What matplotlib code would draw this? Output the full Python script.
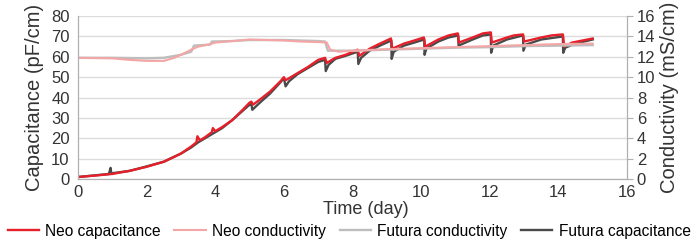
import matplotlib.pyplot as plt

plt.rcParams['font.family'] = ['Liberation Sans', 'DejaVu Sans']

# Neo capacitance (pF/cm)
neo_cap_t = [0, 0.5, 1.0, 1.5, 2.0, 2.5, 3.0, 3.3, 3.45, 3.48, 3.55, 3.7, 3.9, 3.93, 4.0, 4.2,
             4.5, 4.8, 5.0, 5.05, 5.1, 5.3, 5.6, 5.9, 6.0, 6.05, 6.4, 6.7, 7.0, 7.2, 7.25, 7.5,
             7.8, 8.15, 8.2, 8.5, 8.8, 9.12, 9.16, 9.5, 9.8, 10.08, 10.12, 10.5, 10.8, 11.07,
             11.1, 11.5, 11.8, 12.03, 12.06, 12.5, 12.7, 12.97, 13.0, 13.5, 13.8, 14.13, 14.17,
             14.4, 14.7, 15.0]
neo_cap = [1, 1.7, 2.5, 4, 6, 8.5, 12.5, 16, 18, 21, 19, 20.5, 23, 25, 23.5, 25.5,
           29, 34, 37.5, 38, 36.5, 39, 43, 48, 50, 48.5, 52, 55, 58.5, 59.5, 57, 59.5,
           61, 63.5, 60.5, 64, 66.5, 69, 64, 66.5, 68, 69.5, 65, 68.5, 70.5, 71.5,
           67, 69.5, 71.5, 72, 67, 69.5, 70.5, 71, 67.5, 69.5, 70.5, 71, 65,
           67, 68, 69]

# Futura capacitance (pF/cm)
fut_cap_t = [0, 0.9, 0.95, 0.97, 1.5, 2, 2.5, 3, 3.3, 3.5, 3.9, 4.2, 4.5, 4.8, 5.0, 5.05,
             5.08, 5.3, 5.6, 5.9, 6.0, 6.05, 6.15, 6.4, 6.7, 7.0, 7.2, 7.22, 7.3, 7.5, 7.8,
             8.15, 8.17, 8.25, 8.5, 8.8, 9.13, 9.14, 9.2, 9.5, 9.8, 10.09, 10.1, 10.15, 10.5,
             10.8, 11.08, 11.09, 11.5, 11.8, 12.03, 12.04, 12.1, 12.5, 12.97, 12.98, 13.05,
             13.5, 14.13, 14.14, 14.2, 14.5, 15.0]
fut_cap = [1, 2.5, 5.5, 2.8, 4, 6.2, 8.5, 12.5, 15.5, 18, 22, 25, 29, 33.5, 36.5, 37,
           34, 37.5, 42, 47.5, 49.5, 45.5, 48, 51.5, 54.5, 57.5, 58.5, 53, 56, 59, 60.5,
           62.5, 56.5, 59.5, 63, 65.5, 68, 59, 62.5, 65.5, 67, 68.5, 61, 64, 67.5,
           69.5, 70.5, 65.5, 68.5, 70.5, 71, 62, 65.5, 68.5, 70.5, 63, 66,
           68.5, 70, 62, 64.5, 66.5, 68.5]

# Neo conductivity (mS/cm)
neo_cond_t = [0, 1, 1.5, 2, 2.5, 2.8, 3.0, 3.3, 3.5, 3.8, 4, 4.5, 5, 5.5, 6, 6.5, 7, 7.25,
              7.35, 7.6, 8, 9, 10, 11, 12, 13, 14, 15]
neo_cond = [11.9, 11.85, 11.7, 11.6, 11.6, 11.9, 12.2, 12.7, 13.0, 13.2, 13.4, 13.55, 13.7,
            13.65, 13.6, 13.5, 13.45, 13.4, 12.7, 12.5, 12.6, 12.75, 12.85, 12.95, 13.05,
            13.15, 13.25, 13.3]

# Futura conductivity (mS/cm)
fut_cond_t = [0, 1, 2, 2.5, 3, 3.3, 3.38, 3.85, 3.9, 4.5, 5, 6, 7, 7.2, 7.28, 8, 9, 10, 11,
              12, 13, 14, 15]
fut_cond = [11.9, 11.9, 11.85, 11.9, 12.2, 12.5, 13.1, 13.2, 13.5, 13.55, 13.65, 13.65, 13.55,
            13.5, 12.6, 12.6, 12.7, 12.8, 12.9, 12.95, 13.05, 13.1, 13.15]

RED = '#e5202b'
PINK = '#f4a6a6'
LGRAY = '#bdbdbd'
DGRAY = '#4a4a4a'
AXC = '#b0b0b0'
TXT = '#333333'

fig, ax = plt.subplots(figsize=(6.94, 2.40), dpi=100)
fig.subplots_adjust(left=0.1124, right=0.9035, top=0.933, bottom=0.254)
ax2 = ax.twinx()

l4, = ax.plot(fut_cap_t, fut_cap, color=DGRAY, lw=1.7)
l1, = ax.plot(neo_cap_t, neo_cap, color=RED, lw=1.7)
l3, = ax2.plot(fut_cond_t, fut_cond, color=LGRAY, lw=1.7)
l2, = ax2.plot(neo_cond_t, neo_cond, color=PINK, lw=1.5)

ax.set_xlim(0, 16)
ax.set_ylim(0, 80)
ax2.set_ylim(0, 16)
ax.set_xticks(range(0, 17, 2))
ax.set_yticks(range(0, 81, 10))
ax2.set_yticks(range(0, 17, 2))
ax.grid(axis='y', color='#dcdcdc', lw=1)
ax.set_axisbelow(True)

for a in (ax, ax2):
    a.spines['top'].set_visible(False)
    for s in ('left', 'right', 'bottom'):
        a.spines[s].set_color(AXC)
    a.tick_params(labelsize=12, colors=AXC, labelcolor=TXT)
ax.tick_params(axis='x', length=0, pad=4)
ax.tick_params(axis='y', length=0, pad=6)
ax2.tick_params(axis='y', length=4, pad=3)

ax.set_xlabel('Time (day)', fontsize=13, color=TXT)
ax.xaxis.set_label_coords(0.525, -0.135)
ax.set_ylabel('Capacitance (pF/cm)', fontsize=14.5, color=TXT, labelpad=5)
ax2.set_ylabel('Conductivity (mS/cm)', fontsize=14.5, color=TXT, labelpad=3)

fig.legend([l1, l2, l3, l4],
           ['Neo capacitance', 'Neo conductivity', 'Futura conductivity', 'Futura capacitance'],
           loc='center', bbox_to_anchor=(0.503, 0.036), ncol=4, frameon=False,
           fontsize=11.2, handlelength=2.0, columnspacing=0.9, handletextpad=0.4,
           borderpad=0, borderaxespad=0)

fig.savefig('out.png', dpi=100)
